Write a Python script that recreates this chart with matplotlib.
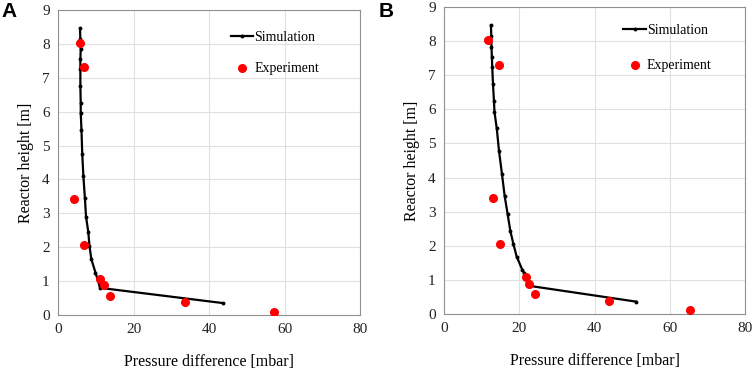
import matplotlib.pyplot as plt

plt.rcParams['font.family'] = 'Liberation Serif'

# panel A
sim_a_x = [5.8, 5.9, 6.0, 5.9, 5.9, 5.9, 6.0, 6.0, 6.2, 6.4, 6.7, 7.1, 7.4, 8.0, 8.3, 8.8, 9.9, 11.0, 11.15, 43.7]
sim_a_y = [8.46, 8.15, 7.85, 7.55, 7.25, 6.75, 6.25, 5.95, 5.45, 4.75, 4.1, 3.45, 2.9, 2.45, 2.05, 1.65, 1.25, 0.85, 0.8, 0.35]
exp_a_x = [5.8, 6.9, 4.25, 6.8, 11.15, 12.1, 13.8, 33.5, 57.2]
exp_a_y = [8.03, 7.32, 3.41, 2.06, 1.07, 0.88, 0.55, 0.37, 0.08]

# panel B
sim_b_x = [12.45, 12.55, 12.6, 12.7, 12.8, 13.0, 13.25, 13.4, 14.0, 14.6, 15.4, 16.1, 16.9, 17.6, 18.4, 19.3, 20.8, 21.3, 22.8, 51.0]
sim_b_y = [8.46, 8.15, 7.83, 7.54, 7.25, 6.74, 6.25, 5.92, 5.44, 4.78, 4.09, 3.46, 2.92, 2.44, 2.06, 1.68, 1.29, 1.2, 0.82, 0.36]
exp_b_x = [11.8, 14.6, 12.9, 14.8, 21.9, 22.5, 24.3, 43.9, 65.3]
exp_b_y = [8.03, 7.29, 3.40, 2.06, 1.09, 0.89, 0.57, 0.38, 0.10]

fig = plt.figure(figsize=(7.54, 3.71), dpi=100)
axA = fig.add_axes([0.077, 0.151, 0.401, 0.822])
axB = fig.add_axes([0.589, 0.154, 0.399, 0.827])

panels = [(axA, sim_a_x, sim_a_y, exp_a_x, exp_a_y, (0.895, 0.962), 1.3),
          (axB, sim_b_x, sim_b_y, exp_b_x, exp_b_y, (0.922, 0.978), 1.65)]

for ax, sx, sy, ex, ey, lpos, lsp in panels:
    ax.plot(sx, sy, color='black', lw=1.6, marker='o', markersize=1.8, label='Simulation', zorder=3)
    ax.plot(ex, ey, linestyle='none', marker='o', color='#ff0000', markersize=5.5, label='Experiment', zorder=4)
    ax.set_xlim(0, 80)
    ax.set_ylim(0, 9)
    ax.set_xticks([0, 20, 40, 60, 80])
    ax.set_yticks(range(10))
    ax.grid(True, color='#e0e0e0', lw=0.8)
    ax.set_axisbelow(True)
    for s in ax.spines.values():
        s.set_color('#909090')
    ax.tick_params(length=0, labelsize=11, pad=6, colors='#222222')
    ax.set_xlabel('Pressure difference [mbar]', fontsize=11.5, labelpad=13)
    ax.set_ylabel('Reactor height [m]', fontsize=11.5, labelpad=6)
    ax.legend(loc='upper right', bbox_to_anchor=lpos, frameon=False, fontsize=10,
              handlelength=1.6, handletextpad=0.1, labelspacing=lsp, borderaxespad=0.3)

fig.text(0.002, 0.995, 'A', fontsize=15, fontweight='bold', family='Liberation Sans', va='top')
fig.text(0.502, 0.995, 'B', fontsize=15, fontweight='bold', family='Liberation Sans', va='top')

plt.savefig('out.png', dpi=100)
